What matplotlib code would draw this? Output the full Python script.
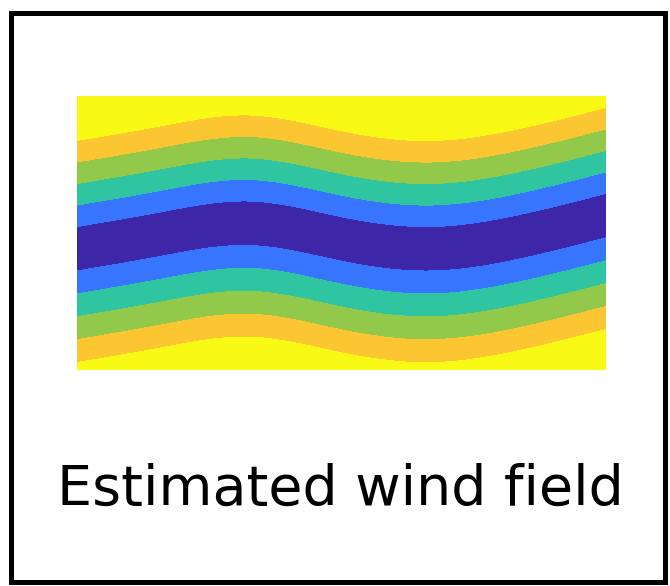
import numpy as np
import matplotlib
matplotlib.use("Agg")
import matplotlib.pyplot as plt
from matplotlib.patches import Rectangle

# ---- data ----
# centre line of the dark band (normalised axes units, x left->right, y bottom->top)
center_x = [0.0, 0.157, 0.327, 0.497, 0.667, 0.837, 1.0]
center_y = [0.445, 0.498, 0.538, 0.482, 0.445, 0.489, 0.566]
band_step_above = 0.0785    # vertical width of each colour band above the centre line
band_step_below = 0.0836    # vertical width of each colour band below the centre line
band_levels = [0, 1, 2, 3, 4, 5, 100]
band_colors = ['#3D26A8', '#3875FF', '#2FC5A0', '#93C94B', '#FCC632', '#F9F916']
title_text = "Estimated wind field"


def natural_spline(xk, yk, x):
    xk = np.asarray(xk, float)
    yk = np.asarray(yk, float)
    n = len(xk)
    h = np.diff(xk)
    A = np.zeros((n, n))
    r = np.zeros(n)
    A[0, 0] = A[-1, -1] = 1.0
    for i in range(1, n - 1):
        A[i, i - 1] = h[i - 1]
        A[i, i] = 2 * (h[i - 1] + h[i])
        A[i, i + 1] = h[i]
        r[i] = 3 * ((yk[i + 1] - yk[i]) / h[i] - (yk[i] - yk[i - 1]) / h[i - 1])
    c = np.linalg.solve(A, r)
    b = (yk[1:] - yk[:-1]) / h - h * (2 * c[:-1] + c[1:]) / 3
    d = (c[1:] - c[:-1]) / (3 * h)
    idx = np.clip(np.searchsorted(xk, x) - 1, 0, n - 2)
    dx = x - xk[idx]
    return yk[idx] + b[idx] * dx + c[idx] * dx ** 2 + d[idx] * dx ** 3


W, H = 670, 586
fig = plt.figure(figsize=(W / 100, H / 100), dpi=100)
fig.patch.set_facecolor('white')

ax = fig.add_axes([77 / W, 1 - 370 / H, 529 / W, 274 / H])
xs = np.linspace(0, 1, 700)
ys = np.linspace(0, 1, 500)
X, Y = np.meshgrid(xs, ys)
yc = natural_spline(center_x, center_y, xs)[None, :]
field = np.where(Y >= yc, (Y - yc) / band_step_above, (yc - Y) / band_step_below)
ax.contourf(X, Y, field, levels=band_levels, colors=band_colors, antialiased=False)
ax.set_xlim(0, 1)
ax.set_ylim(0, 1)
ax.axis('off')

# outer frame
fig.patches.append(Rectangle((10.5 / W, 1 - 581.5 / H), (665 - 10.5) / W, (581.5 - 13) / H,
                             transform=fig.transFigure, fill=False, edgecolor='black',
                             linewidth=3.6))

fig.text(340 / W, 1 - 505 / H, title_text, ha='center', va='baseline',
         fontsize=40, family='DejaVu Sans', color='black')

fig.savefig('out.png', dpi=100)
